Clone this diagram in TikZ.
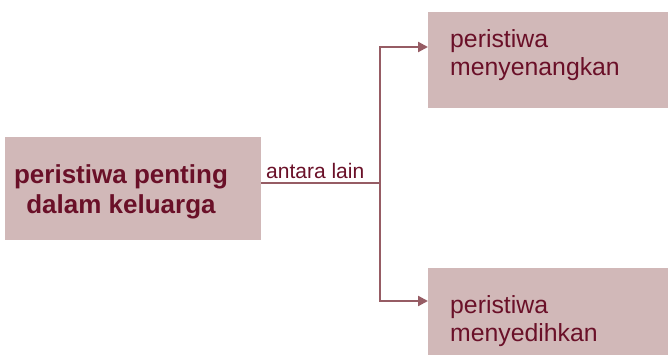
\documentclass[tikz,border=0pt]{standalone}
\usepackage{fontspec}
\setmainfont{Liberation Sans}
\usetikzlibrary{arrows.meta}
\definecolor{boxfill}{RGB}{209,184,184}
\definecolor{txtc}{RGB}{106,16,40}
\definecolor{linec}{RGB}{150,92,100}
\tikzset{
  boxnode/.style={fill=boxfill, draw=none, inner sep=0pt, anchor=north west},
  label/.style={text=txtc, inner sep=0pt},
  conn/.style={draw=linec, line width=2.2pt},
  arr/.style={conn, -{Triangle[length=10pt,width=10pt]}}
}
\begin{document}
\begin{tikzpicture}[x=1pt,y=-1pt]
\useasboundingbox (0,0) rectangle (668,355);
\node[boxnode, minimum width=256pt, minimum height=103pt] (L) at (5,137) {};
\node[boxnode, minimum width=240pt, minimum height=96pt] (T) at (428,12) {};
\node[boxnode, minimum width=240pt, minimum height=88pt] (B) at (428,268) {};
\node[label, align=center, font=\bfseries\fontsize{26}{30}\selectfont] (Lt) at (121,191.5) {peristiwa penting\\dalam keluarga};
\node[label, align=left, anchor=west, font=\fontsize{24.8}{28}\selectfont] (Tt) at (450,55) {peristiwa\\menyenangkan};
\node[label, align=left, anchor=west, font=\fontsize{24.8}{28}\selectfont] (Bt) at (450,321) {peristiwa\\menyedihkan};
\node[label, anchor=base west, font=\fontsize{21}{24}\selectfont] (al) at (266,179) {antara lain};
\coordinate (j) at (380,183);
\coordinate (ta) at (428,47);
\coordinate (ba) at (428,301);
\draw[conn] (L.east |- j) -- (j);
\draw[arr] (j) |- (ta);
\draw[arr] (j) |- (ba);
\end{tikzpicture}
\end{document}
